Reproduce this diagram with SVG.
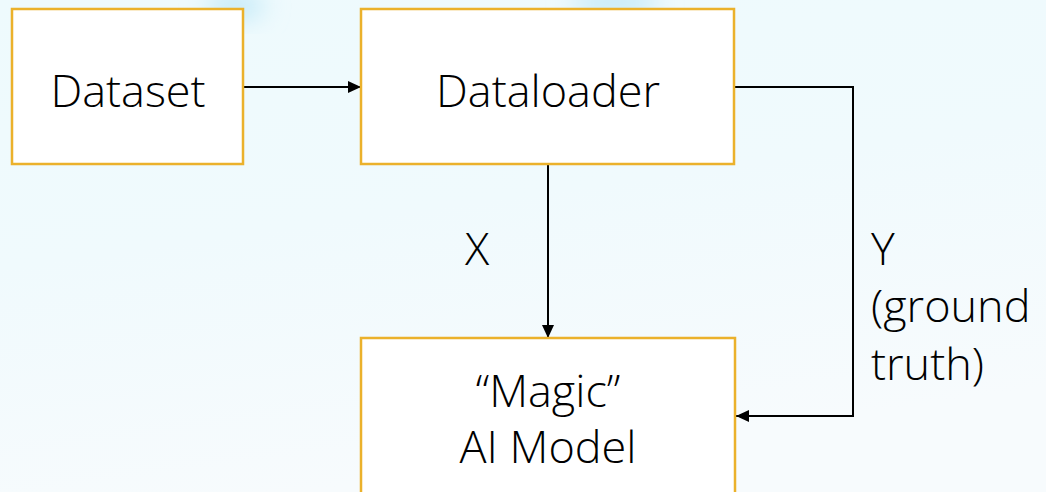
<svg xmlns="http://www.w3.org/2000/svg" width="1046" height="492" viewBox="0 0 1046 492">
  <style>
    .box { fill: #ffffff; stroke: #ebb12b; stroke-width: 2.5; }
    .lbl { font-family: "Open Sans", "Liberation Sans", sans-serif; font-weight: 300; font-size: 45px; fill: #000000; }
    .mid { text-anchor: middle; }
    .wire { fill: none; stroke: #000000; stroke-width: 2; }
  </style>
  <defs>
    <marker id="arrow" viewBox="0 0 13 12" refX="13" refY="6" markerWidth="13" markerHeight="12" markerUnits="userSpaceOnUse" orient="auto">
      <path d="M0,0 L13,6 L0,12 z" fill="#000000"/>
    </marker>
    <filter id="soft" x="-50%" y="-50%" width="200%" height="200%">
      <feGaussianBlur stdDeviation="12"/>
    </filter>
    <linearGradient id="wash" x1="0" y1="0" x2="0.3" y2="1">
      <stop offset="0" stop-color="#eefafd"/>
      <stop offset="0.5" stop-color="#f0fafd"/>
      <stop offset="1" stop-color="#f7fbfd"/>
    </linearGradient>
  </defs>

  <!-- pale watercolour backdrop -->
  <rect x="0" y="0" width="1046" height="492" fill="url(#wash)"/>
  <g filter="url(#soft)">
    <ellipse cx="235" cy="6" rx="30" ry="14" fill="#c4eaf8"/>
    <ellipse cx="615" cy="2" rx="45" ry="10" fill="#b8e5f8"/>
  </g>

  <g id="connectors">
    <line class="wire" x1="243" y1="87" x2="361" y2="87" marker-end="url(#arrow)"/>
    <line class="wire" x1="548" y1="164" x2="548" y2="338" marker-end="url(#arrow)"/>
    <polyline class="wire" points="734,87 853,87 853,416 736,416" marker-end="url(#arrow)"/>
    <text class="lbl" x="465" y="265">X</text>
    <text class="lbl" x="871" y="265">Y</text>
    <text class="lbl" x="871" y="322">(ground</text>
    <text class="lbl" x="871" y="380">truth)</text>
  </g>

  <g id="dataset">
    <rect class="box" x="12" y="9" width="231" height="155"/>
    <text class="lbl mid" x="128" y="107">Dataset</text>
  </g>

  <g id="dataloader">
    <rect class="box" x="361" y="9" width="373" height="155"/>
    <text class="lbl mid" x="548" y="107">Dataloader</text>
  </g>

  <g id="model">
    <rect class="box" x="361" y="338" width="374" height="170"/>
    <text class="lbl mid" x="548" y="407">“Magic”</text>
    <text class="lbl mid" x="548" y="463">AI Model</text>
  </g>
</svg>
